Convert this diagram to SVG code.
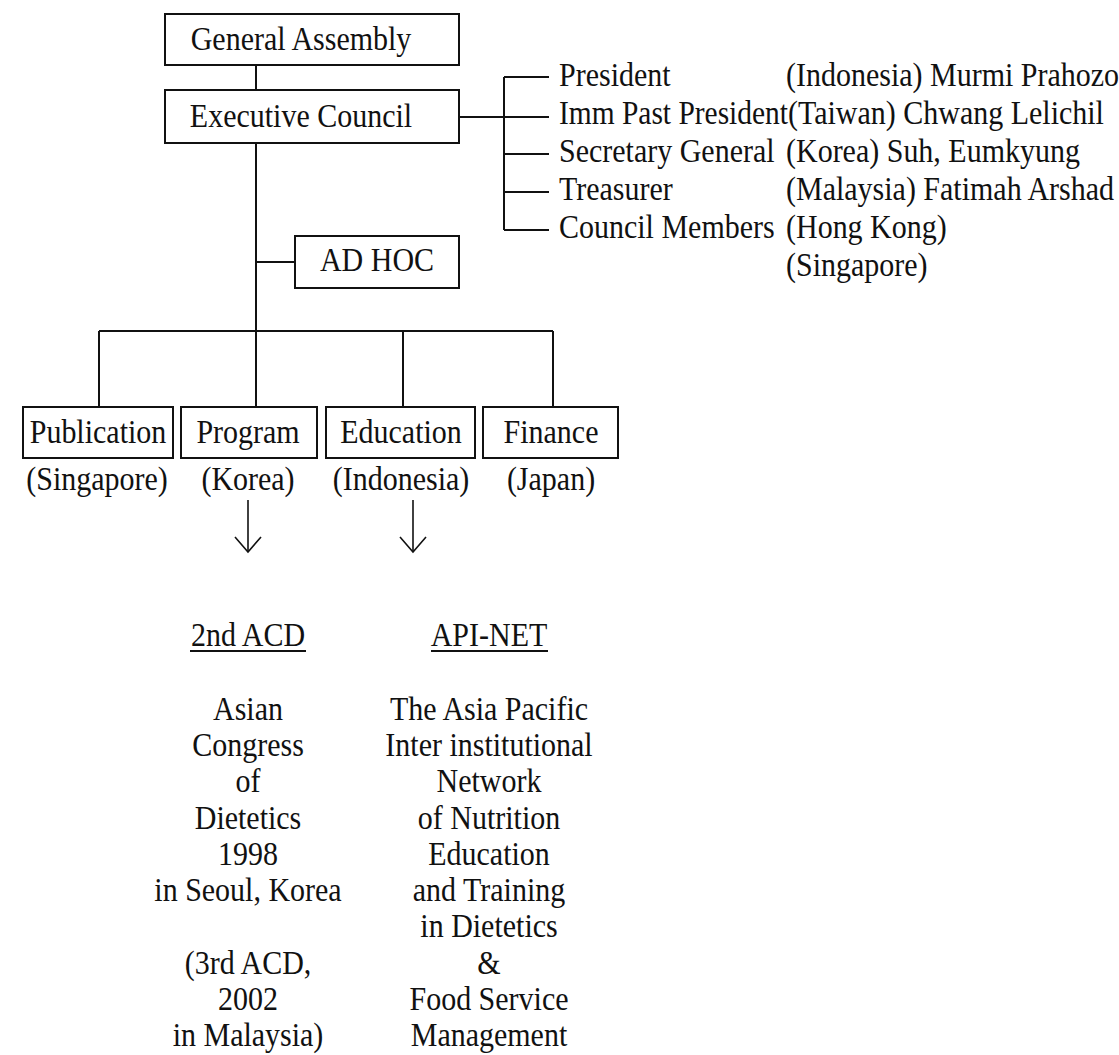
<svg xmlns="http://www.w3.org/2000/svg" width="1119" height="1055" viewBox="0 0 1119 1055">
<style>
.bx{fill:#fff;stroke:#111;stroke-width:2}
.ln{stroke:#111;stroke-width:2;fill:none}
.ar{stroke:#111;stroke-width:1.6;fill:none}
text{font-family:"Liberation Serif","Times New Roman",serif;font-size:30px;fill:#111}
.c{text-anchor:middle}
</style>
<rect width="1119" height="1055" fill="#fff"/>
<g id="connectors">
<line class="ln" x1="256" y1="65" x2="256" y2="90"/>
<line class="ln" x1="256" y1="143" x2="256" y2="407"/>
<line class="ln" x1="256" y1="262" x2="295" y2="262"/>
<line class="ln" x1="459" y1="117" x2="504" y2="117"/>
<line class="ln" x1="504" y1="77" x2="504" y2="230"/>
<line class="ln" x1="504" y1="77" x2="549" y2="77"/>
<line class="ln" x1="504" y1="117" x2="549" y2="117"/>
<line class="ln" x1="504" y1="154" x2="549" y2="154"/>
<line class="ln" x1="504" y1="192" x2="549" y2="192"/>
<line class="ln" x1="504" y1="230" x2="549" y2="230"/>
<line class="ln" x1="99" y1="331" x2="553" y2="331"/>
<line class="ln" x1="99" y1="331" x2="99" y2="407"/>
<line class="ln" x1="403" y1="331" x2="403" y2="407"/>
<line class="ln" x1="553" y1="331" x2="553" y2="407"/>
<line class="ar" x1="248" y1="500" x2="248" y2="552"/>
<polyline class="ar" points="235,537 248,552 261,537"/>
<line class="ar" x1="413" y1="500" x2="413" y2="552"/>
<polyline class="ar" points="400,537 413,552 426,537"/>
</g>
<g id="general-assembly">
<rect class="bx" x="165" y="14" width="294" height="51"/>
<text class="c" transform="translate(301,50) scale(1,1.1)">General Assembly</text>
</g>
<g id="executive-council">
<rect class="bx" x="165" y="90" width="294" height="53"/>
<text class="c" transform="translate(301,127) scale(1,1.1)">Executive Council</text>
</g>
<g id="officers">
<text transform="translate(559,86) scale(1,1.1)">President</text>
<text transform="translate(559,124) scale(1,1.1)" textLength="229" lengthAdjust="spacingAndGlyphs">Imm Past President</text>
<text transform="translate(559,162) scale(1,1.1)">Secretary General</text>
<text transform="translate(559,200) scale(1,1.1)">Treasurer</text>
<text transform="translate(559,238) scale(1,1.1)">Council Members</text>
<text transform="translate(786,86) scale(1,1.1)">(Indonesia) Murmi Prahozo</text>
<text transform="translate(788,124) scale(1,1.1)">(Taiwan) Chwang Lelichil</text>
<text transform="translate(786,162) scale(1,1.1)">(Korea) Suh, Eumkyung</text>
<text transform="translate(786,200) scale(1,1.1)">(Malaysia) Fatimah Arshad</text>
<text transform="translate(786,238) scale(1,1.1)">(Hong Kong)</text>
<text transform="translate(786,276) scale(1,1.1)">(Singapore)</text>
</g>
<g id="ad-hoc">
<rect class="bx" x="295" y="236" width="164" height="52"/>
<text class="c" transform="translate(377,271) scale(1,1.1)">AD HOC</text>
</g>
<g id="publication">
<rect class="bx" x="23" y="407" width="150" height="51"/>
<text class="c" transform="translate(98,443) scale(1,1.1)">Publication</text>
<text class="c" transform="translate(97,490) scale(1,1.1)">(Singapore)</text>
</g>
<g id="program">
<rect class="bx" x="181" y="407" width="136" height="51"/>
<text class="c" transform="translate(248,443) scale(1,1.1)">Program</text>
<text class="c" transform="translate(248,490) scale(1,1.1)">(Korea)</text>
</g>
<g id="education">
<rect class="bx" x="326" y="407" width="149" height="51"/>
<text class="c" transform="translate(401,443) scale(1,1.1)">Education</text>
<text class="c" transform="translate(401,490) scale(1,1.1)">(Indonesia)</text>
</g>
<g id="finance">
<rect class="bx" x="483" y="407" width="135" height="51"/>
<text class="c" transform="translate(551,443) scale(1,1.1)">Finance</text>
<text class="c" transform="translate(551,490) scale(1,1.1)">(Japan)</text>
</g>
<g id="acd">
<text class="c" transform="translate(248,646) scale(1,1.1)">2nd ACD</text>
<line class="ln" x1="190" y1="651" x2="306" y2="651" stroke-width="1.5"/>
<text class="c" transform="translate(248,720) scale(1,1.1)">Asian</text>
<text class="c" transform="translate(248,756) scale(1,1.1)">Congress</text>
<text class="c" transform="translate(248,792) scale(1,1.1)">of</text>
<text class="c" transform="translate(248,829) scale(1,1.1)">Dietetics</text>
<text class="c" transform="translate(248,865) scale(1,1.1)">1998</text>
<text class="c" transform="translate(248,901) scale(1,1.1)">in Seoul, Korea</text>
<text class="c" transform="translate(248,974) scale(1,1.1)">(3rd ACD,</text>
<text class="c" transform="translate(248,1010) scale(1,1.1)">2002</text>
<text class="c" transform="translate(248,1046) scale(1,1.1)">in Malaysia)</text>
</g>
<g id="api-net">
<text class="c" transform="translate(489,646) scale(1,1.1)">API-NET</text>
<line class="ln" x1="431" y1="651" x2="548" y2="651" stroke-width="1.5"/>
<text class="c" transform="translate(489,720) scale(1,1.1)">The Asia Pacific</text>
<text class="c" transform="translate(489,756) scale(1,1.1)">Inter institutional</text>
<text class="c" transform="translate(489,792) scale(1,1.1)">Network</text>
<text class="c" transform="translate(489,829) scale(1,1.1)">of Nutrition</text>
<text class="c" transform="translate(489,865) scale(1,1.1)">Education</text>
<text class="c" transform="translate(489,901) scale(1,1.1)">and Training</text>
<text class="c" transform="translate(489,937) scale(1,1.1)">in Dietetics</text>
<text class="c" transform="translate(489,974) scale(1,1.1)">&amp;</text>
<text class="c" transform="translate(489,1010) scale(1,1.1)">Food Service</text>
<text class="c" transform="translate(489,1046) scale(1,1.1)">Management</text>
</g>
</svg>
